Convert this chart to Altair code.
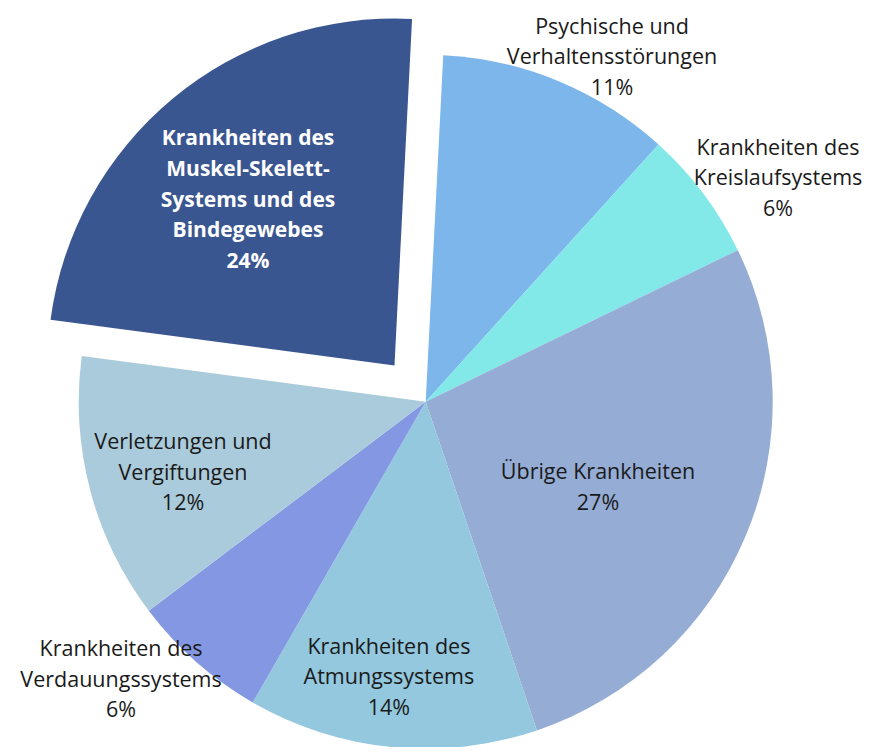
import math
import altair as alt
import pandas as pd

# ---- data ----
categories = [
    "Psychische und Verhaltensstörungen",
    "Krankheiten des Kreislaufsystems",
    "Übrige Krankheiten",
    "Krankheiten des Atmungssystems",
    "Krankheiten des Verdauungssystems",
    "Verletzungen und Vergiftungen",
    "Krankheiten des Muskel-Skelett-Systems und des Bindegewebes",
]
values = [10.9, 6.1, 27.0, 13.5, 6.4, 12.4, 23.7]
pct_labels = ["11%", "6%", "27%", "14%", "6%", "12%", "24%"]
label_text = [
    "Psychische und\nVerhaltensstörungen",
    "Krankheiten des\nKreislaufsystems",
    "Übrige Krankheiten",
    "Krankheiten des\nAtmungssystems",
    "Krankheiten des\nVerdauungssystems",
    "Verletzungen und\nVergiftungen",
    "Krankheiten des\nMuskel-Skelett-\nSystems und des\nBindegewebes",
]
exploded = [0, 0, 0, 0, 0, 0, 1]

# ---- styling / layout ----
colors = ["#7DB6EB", "#82E8E8", "#95ACD5", "#93C8DE", "#8497E2", "#AACBDB", "#3A5690"]
START_DEG = 2.9
RADIUS = 347
CX, CY = 417.7, 393.7          # pie centre inside the view
EX, EY = 386.5, 357.5          # centre of the pulled-out slice
# polar position (angle from north, distance from centre) of each label's first line
label_deg = [26.5, 54.35, 112.5, 188.5, 230.8, 260.3, 327.1]
label_r = [417.6, 433.6, 186.5, 249.0, 393.1, 246.2, 269.7]
FONT = "Open Sans"
LH = 30.5

df = pd.DataFrame({
    "cat": categories,
    "value": values,
    "order": list(range(len(categories))),
    "exploded": exploded,
    "text": [t + "\n" + p for t, p in zip(label_text, pct_labels)],
    "lab_pct": [(d - START_DEG) / 3.6 for d in label_deg],
    "lab_r": label_r,
})

s = math.radians(START_DEG)
theta_scale = alt.Scale(domain=[0, 100], range=[s, s + 2 * math.pi])
color_scale = alt.Scale(domain=categories, range=colors)

base = alt.Chart(df).transform_window(
    end="sum(value)", sort=[alt.SortField("order")], frame=[None, 0]
).transform_calculate(start="datum.end - datum.value")

arcs_main = base.transform_filter("datum.exploded == 0").mark_arc(
    radius=RADIUS, strokeWidth=0
).encode(
    theta=alt.Theta("start:Q", scale=theta_scale, stack=None),
    theta2="end:Q",
    color=alt.Color("cat:N", scale=color_scale, legend=None),
    x=alt.value(CX), y=alt.value(CY),
)

arcs_exp = base.transform_filter("datum.exploded == 1").mark_arc(
    radius=RADIUS, strokeWidth=0
).encode(
    theta=alt.Theta("start:Q", scale=theta_scale, stack=None),
    theta2="end:Q",
    color=alt.Color("cat:N", scale=color_scale, legend=None),
    x=alt.value(EX), y=alt.value(EY),
)

labels_main = alt.Chart(df).transform_filter("datum.exploded == 0").mark_text(
    font=FONT, fontSize=21.5, lineBreak="\n", lineHeight=LH,
    align="center", baseline="middle", color="#1a1a1a",
).encode(
    theta=alt.Theta("lab_pct:Q", scale=theta_scale, stack=None),
    radius=alt.Radius("lab_r:Q", scale=None),
    text="text:N",
    x=alt.value(CX), y=alt.value(CY),
)

labels_exp = alt.Chart(df).transform_filter("datum.exploded == 1").mark_text(
    font=FONT, fontSize=21, fontWeight="bold", lineBreak="\n", lineHeight=30.8,
    align="center", baseline="middle", color="white",
).encode(
    theta=alt.Theta("lab_pct:Q", scale=theta_scale, stack=None),
    radius=alt.Radius("lab_r:Q", scale=None),
    text="text:N",
    x=alt.value(EX), y=alt.value(EY),
)

chart = alt.layer(arcs_main, arcs_exp, labels_main, labels_exp).properties(
    width=861, height=739, padding=0,
    autosize=alt.AutoSizeParams(type="none"),
    background="white",
).configure_view(stroke=None)

chart.save("out.html", embed_options={"renderer": "svg", "actions": False})
